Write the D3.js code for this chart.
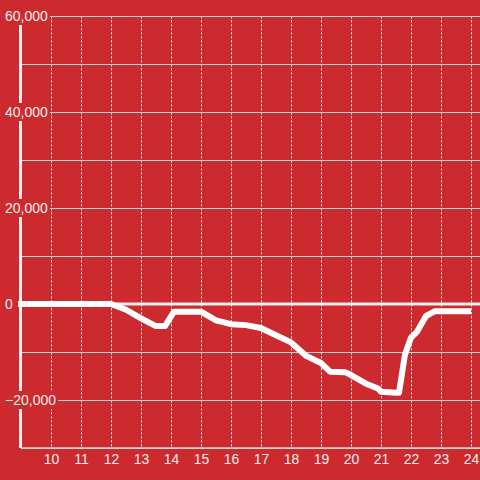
<!DOCTYPE html>
<head>
    <meta charset="utf-8">
    <style>
        body { margin: 0; background: #cc2a2f; }
        svg { position: absolute; top: 0; left: 0; }
        .axis text { font-family: 'Liberation Sans', Arial, sans-serif; font-size: 14px; fill: #f0eded; }
        .axis path { display: none; }
    </style>
    <script src="https://d3js.org/d3.v7.min.js"></script>
</head>
<body>
    <script>
        ////////////// Data //////////////
        const hours = [9, 12, 12.5, 13, 13.5, 13.8, 14.1, 15, 15.5, 16, 16.5, 17, 17.5, 18, 18.5, 19,
            19.3, 19.8, 20, 20.5, 20.9, 21, 21.5, 21.6, 21.8, 22, 22.2, 22.5, 22.8, 23, 23.5, 23.9]
        const values = [0, 0, -1200, -3000, -4600, -4600, -1600, -1600, -3400, -4200, -4400, -5000, -6500, -8000, -10800, -12300,
            -14100, -14200, -14800, -16600, -17600, -18300, -18500, -18500, -10500, -7000, -5800, -2500, -1500, -1500, -1500, -1500]
        const xTicks = [10, 11, 12, 13, 14, 15, 16, 17, 18, 19, 20, 21, 22, 23, 24]
        const yTicks = [60000, 40000, 20000, 0, -20000]
        const yGrid = [60000, 50000, 40000, 30000, 20000, 10000, -10000, -20000, -30000]

        ////////////// Setup //////////////
        const W = 480, H = 480
        const x = d3.scaleLinear().domain([9, 24.3]).range([21, 480])
        const y = d3.scaleLinear().domain([60000, -30000]).range([16, 448])

        const svg = d3.select("body").append("svg")
            .attr("width", W).attr("height", H)

        svg.append("rect").attr("width", W).attr("height", H).attr("fill", "#cc2a2f")

        //Dotted vertical grid
        svg.append("g").selectAll("line").data(xTicks).join("line")
            .attr("x1", d => x(d) + 0.5).attr("x2", d => x(d) + 0.5)
            .attr("y1", y(60000)).attr("y2", y(-30000))
            .attr("stroke", "#d4dada").attr("stroke-width", 1)
            .attr("stroke-dasharray", "2.5,1.5")

        //Horizontal grid
        svg.append("g").selectAll("line").data(yGrid).join("line")
            .attr("x1", x(9)).attr("x2", W)
            .attr("y1", d => y(d) + 0.5).attr("y2", d => y(d) + 0.5)
            .attr("stroke", "#ccd4d4").attr("stroke-width", 1)

        //Zero line
        svg.append("line")
            .attr("x1", x(9)).attr("x2", W)
            .attr("y1", y(0)).attr("y2", y(0))
            .attr("stroke", "#f0eded").attr("stroke-width", 3)

        //Bottom line
        svg.append("line")
            .attr("x1", x(9)).attr("x2", W)
            .attr("y1", y(-30000)).attr("y2", y(-30000))
            .attr("stroke", "#ccd4d4").attr("stroke-width", 1.5)

        //Y axis line
        svg.append("line")
            .attr("x1", 20.5).attr("x2", 20.5)
            .attr("y1", y(60000)).attr("y2", y(-30000))
            .attr("stroke", "#f0eded").attr("stroke-width", 3)

        ////////////// Axes //////////////
        const yAxis = svg.append("g").attr("class", "axis y")
            .call(d3.axisLeft(y).tickValues(yTicks).tickSize(0).tickPadding(0)
                .tickFormat(d3.format(",")))
        yAxis.selectAll("text").attr("x", 5).attr("text-anchor", "start")
        //red background behind y labels
        yAxis.selectAll(".tick").each(function () {
            const t = d3.select(this).select("text")
            const b = t.node().getBBox()
            d3.select(this).insert("rect", "text")
                .attr("x", b.x - 1).attr("y", b.y - 1)
                .attr("width", b.width + 3).attr("height", b.height + 2)
                .attr("fill", "#cc2a2f")
        })

        const xAxis = svg.append("g").attr("class", "axis x")
            .attr("transform", "translate(0," + (y(-30000) + 2) + ")")
            .call(d3.axisBottom(x).tickValues(xTicks).tickSize(0).tickPadding(4))

        ////////////// Line //////////////
        const line = d3.line().x((d, i) => x(hours[i])).y(d => y(d))
        svg.append("path").datum(values)
            .attr("d", line)
            .attr("fill", "none")
            .attr("stroke", "#ffffff")
            .attr("stroke-width", 6)
            .attr("stroke-linejoin", "round")
            .attr("stroke-linecap", "square")
    </script>
</body>
